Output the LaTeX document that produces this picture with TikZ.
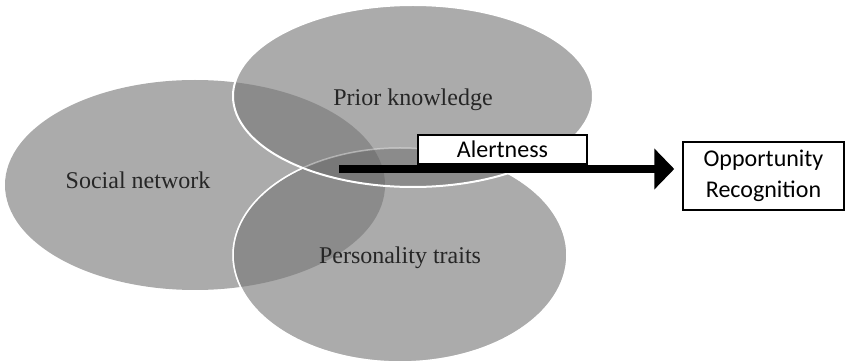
\documentclass[tikz,border=0pt]{standalone}
\usepackage{fontspec}
\setmainfont{Liberation Serif}
\newfontfamily\boxfont{Carlito}
\usetikzlibrary{arrows.meta}
\definecolor{ovalgray}{gray}{0.67}
\definecolor{pairgray}{gray}{0.545}
\definecolor{tripgray}{gray}{0.47}
\tikzset{
  ovaltext/.style={anchor=base, font=\fontsize{24}{28}\selectfont, text=black!85},
  labelbox/.style={draw, line width=1.5pt, fill=white, inner sep=0pt, font=\boxfont\fontsize{24}{31}\selectfont, align=center},
  bigarrow/.style={line width=7.5pt, -{Triangle[length=20pt,width=40pt]}}
}

\begin{document}
\begin{tikzpicture}[x=1pt,y=-1pt]
  \useasboundingbox (0,0) rectangle (846,363);
  \def\social{(195,185) ellipse [x radius=190pt, y radius=105pt]}
  \def\prior{(413,96) ellipse [x radius=180pt, y radius=91pt]}
  \def\traits{(400,255) ellipse [x radius=167pt, y radius=107pt]}
  % the three ovals
  \fill[ovalgray] \social \prior \traits;
  \begin{scope} \clip \social; \fill[pairgray] \prior \traits; \end{scope}
  \begin{scope} \clip \prior; \fill[pairgray] \traits; \end{scope}
  \begin{scope} \clip \social; \clip \prior; \fill[tripgray] \traits; \end{scope}
  \draw[white, line width=1.5pt, opacity=.4] \traits;
  \begin{scope}[even odd rule]
    \clip (0,0) rectangle (846,363) \prior;
    \draw[white, line width=1.5pt] \traits;
  \end{scope}
  \draw[white, line width=2pt] \prior;
  % labels
  \node[ovaltext] (social) at (138,189) {Social network};
  \node[ovaltext] (prior) at (413,106) {Prior knowledge};
  \node[ovaltext] (traits) at (400,264) {Personality traits};
  % alertness arrow
  \node[labelbox, minimum width=169pt, minimum height=29pt] (alert) at (502.5,149.5) {Alertness};
  \node[labelbox, minimum width=161pt, minimum height=68pt] (opp) at (763.5,176) {Opportunity\\Recognition};
  \coordinate (start) at (339,169);
  \draw[bigarrow, shorten >=8pt] (start) -- (start -| opp.west);
\end{tikzpicture}
\end{document}
